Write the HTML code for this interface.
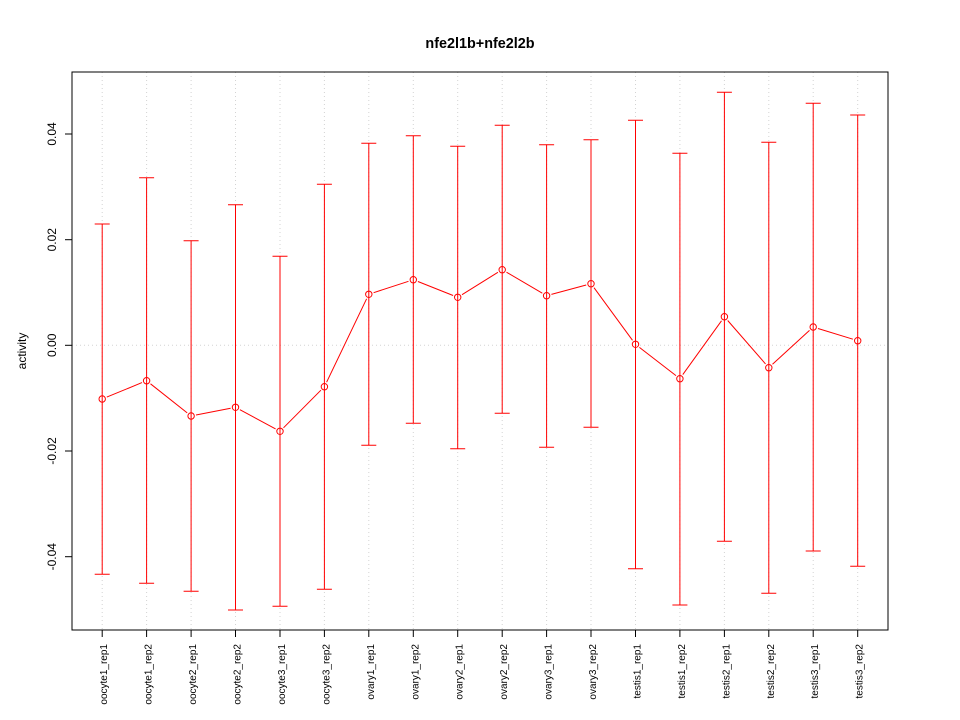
<!DOCTYPE html>
<html><head><meta charset="utf-8"><style>
html,body{margin:0;padding:0;background:#fff;}
svg{display:block;}
text{font-family:"Liberation Sans",Arial,sans-serif;fill:#000;}
</style></head><body>
<svg width="960" height="720" viewBox="0 0 960 720" xmlns="http://www.w3.org/2000/svg">
<rect width="960" height="720" fill="#fff"/>
<text x="480" y="48" text-anchor="middle" font-size="14.4" font-weight="bold">nfe2l1b+nfe2l2b</text>
<!-- grid -->
<g stroke="#D3D3D3" stroke-width="1" stroke-dasharray="1,3" fill="none">
<line x1="72" y1="345.3" x2="888" y2="345.3"/>
<line x1="102.2" y1="72" x2="102.2" y2="630"/>
<line x1="146.6" y1="72" x2="146.6" y2="630"/>
<line x1="191.1" y1="72" x2="191.1" y2="630"/>
<line x1="235.5" y1="72" x2="235.5" y2="630"/>
<line x1="280.0" y1="72" x2="280.0" y2="630"/>
<line x1="324.4" y1="72" x2="324.4" y2="630"/>
<line x1="368.8" y1="72" x2="368.8" y2="630"/>
<line x1="413.3" y1="72" x2="413.3" y2="630"/>
<line x1="457.7" y1="72" x2="457.7" y2="630"/>
<line x1="502.2" y1="72" x2="502.2" y2="630"/>
<line x1="546.6" y1="72" x2="546.6" y2="630"/>
<line x1="591.0" y1="72" x2="591.0" y2="630"/>
<line x1="635.5" y1="72" x2="635.5" y2="630"/>
<line x1="679.9" y1="72" x2="679.9" y2="630"/>
<line x1="724.4" y1="72" x2="724.4" y2="630"/>
<line x1="768.8" y1="72" x2="768.8" y2="630"/>
<line x1="813.2" y1="72" x2="813.2" y2="630"/>
<line x1="857.7" y1="72" x2="857.7" y2="630"/>
</g>
<!-- box -->
<rect x="72" y="72" width="816" height="558" fill="none" stroke="#000" stroke-width="1"/>
<!-- y axis -->
<g stroke="#000" stroke-width="1">
<line x1="72" y1="134" x2="72" y2="556.7"/>
<line x1="65" y1="134" x2="72" y2="134"/>
<line x1="65" y1="239.7" x2="72" y2="239.7"/>
<line x1="65" y1="345.3" x2="72" y2="345.3"/>
<line x1="65" y1="451" x2="72" y2="451"/>
<line x1="65" y1="556.7" x2="72" y2="556.7"/>
</g>
<g font-size="12" text-anchor="middle">
<text transform="translate(56,134) rotate(-90)">0.04</text>
<text transform="translate(56,239.7) rotate(-90)">0.02</text>
<text transform="translate(56,345.3) rotate(-90)">0.00</text>
<text transform="translate(56,451) rotate(-90)">-0.02</text>
<text transform="translate(56,556.7) rotate(-90)">-0.04</text>
<text transform="translate(26,351) rotate(-90)">activity</text>
</g>
<!-- x axis ticks -->
<g stroke="#000" stroke-width="1">
<line x1="102.2" y1="630" x2="102.2" y2="637"/>
<line x1="146.6" y1="630" x2="146.6" y2="637"/>
<line x1="191.1" y1="630" x2="191.1" y2="637"/>
<line x1="235.5" y1="630" x2="235.5" y2="637"/>
<line x1="280.0" y1="630" x2="280.0" y2="637"/>
<line x1="324.4" y1="630" x2="324.4" y2="637"/>
<line x1="368.8" y1="630" x2="368.8" y2="637"/>
<line x1="413.3" y1="630" x2="413.3" y2="637"/>
<line x1="457.7" y1="630" x2="457.7" y2="637"/>
<line x1="502.2" y1="630" x2="502.2" y2="637"/>
<line x1="546.6" y1="630" x2="546.6" y2="637"/>
<line x1="591.0" y1="630" x2="591.0" y2="637"/>
<line x1="635.5" y1="630" x2="635.5" y2="637"/>
<line x1="679.9" y1="630" x2="679.9" y2="637"/>
<line x1="724.4" y1="630" x2="724.4" y2="637"/>
<line x1="768.8" y1="630" x2="768.8" y2="637"/>
<line x1="813.2" y1="630" x2="813.2" y2="637"/>
<line x1="857.7" y1="630" x2="857.7" y2="637"/>
</g>
<g font-size="10" text-anchor="end">
<text transform="translate(107.2,644) rotate(-90)">oocyte1_rep1</text>
<text transform="translate(151.6,644) rotate(-90)">oocyte1_rep2</text>
<text transform="translate(196.1,644) rotate(-90)">oocyte2_rep1</text>
<text transform="translate(240.5,644) rotate(-90)">oocyte2_rep2</text>
<text transform="translate(285.0,644) rotate(-90)">oocyte3_rep1</text>
<text transform="translate(329.4,644) rotate(-90)">oocyte3_rep2</text>
<text transform="translate(373.8,644) rotate(-90)">ovary1_rep1</text>
<text transform="translate(418.3,644) rotate(-90)">ovary1_rep2</text>
<text transform="translate(462.7,644) rotate(-90)">ovary2_rep1</text>
<text transform="translate(507.2,644) rotate(-90)">ovary2_rep2</text>
<text transform="translate(551.6,644) rotate(-90)">ovary3_rep1</text>
<text transform="translate(596.0,644) rotate(-90)">ovary3_rep2</text>
<text transform="translate(640.5,644) rotate(-90)">testis1_rep1</text>
<text transform="translate(684.9,644) rotate(-90)">testis1_rep2</text>
<text transform="translate(729.4,644) rotate(-90)">testis2_rep1</text>
<text transform="translate(773.8,644) rotate(-90)">testis2_rep2</text>
<text transform="translate(818.2,644) rotate(-90)">testis3_rep1</text>
<text transform="translate(862.7,644) rotate(-90)">testis3_rep2</text>
</g>
<!-- error bars -->
<g stroke="#FF0000" stroke-width="1" fill="none">
<path d="M102.2,224V574.3M94.7,224H109.7M94.7,574.3H109.7"/>
<path d="M146.6,177.7V583.3M139.1,177.7H154.1M139.1,583.3H154.1"/>
<path d="M191.1,240.7V591.3M183.6,240.7H198.6M183.6,591.3H198.6"/>
<path d="M235.5,204.7V610M228,204.7H243M228,610H243"/>
<path d="M280,256.3V606.3M272.5,256.3H287.5M272.5,606.3H287.5"/>
<path d="M324.4,184.3V589.3M316.9,184.3H331.9M316.9,589.3H331.9"/>
<path d="M368.8,143.3V445.3M361.3,143.3H376.3M361.3,445.3H376.3"/>
<path d="M413.3,135.7V423.3M405.8,135.7H420.8M405.8,423.3H420.8"/>
<path d="M457.7,146.3V448.7M450.2,146.3H465.2M450.2,448.7H465.2"/>
<path d="M502.2,125.3V413.3M494.7,125.3H509.7M494.7,413.3H509.7"/>
<path d="M546.6,144.7V447.3M539.1,144.7H554.1M539.1,447.3H554.1"/>
<path d="M591,139.7V427.3M583.5,139.7H598.5M583.5,427.3H598.5"/>
<path d="M635.5,120.3V568.7M628,120.3H643M628,568.7H643"/>
<path d="M679.9,153.3V605M672.4,153.3H687.4M672.4,605H687.4"/>
<path d="M724.4,92.3V541.3M716.9,92.3H731.9M716.9,541.3H731.9"/>
<path d="M768.8,142.3V593.3M761.3,142.3H776.3M761.3,593.3H776.3"/>
<path d="M813.2,103.3V551M805.7,103.3H820.7M805.7,551H820.7"/>
<path d="M857.7,115V566.3M850.2,115H865.2M850.2,566.3H865.2"/>
</g>
<!-- connecting line segments -->
<g stroke="#FF0000" stroke-width="1" fill="none">
<path d="M106.8,397.1L142.0,382.6M150.5,383.8L187.2,412.9M196.0,415.0L230.6,408.3M239.9,409.7L275.6,428.9M283.5,427.8L320.9,390.2M326.6,382.2L366.6,298.8M373.6,292.7L408.5,281.3M417.9,281.5L453.1,295.5M462.0,294.7L497.9,272.3M506.5,272.2L542.3,293.2M551.4,294.4L586.2,285.0M594.0,287.7L632.5,340.3M639.4,347.4L676.0,375.6M682.8,374.6L721.5,320.8M727.7,320.5L765.5,363.9M772.5,364.3L809.5,330.4M818.0,328.5L852.9,339.2"/>
</g>
<!-- points -->
<g stroke="#FF0000" stroke-width="1" fill="none">
<circle cx="102.2" cy="399" r="3.2"/>
<circle cx="146.6" cy="380.7" r="3.2"/>
<circle cx="191.1" cy="416" r="3.2"/>
<circle cx="235.5" cy="407.3" r="3.2"/>
<circle cx="280" cy="431.3" r="3.2"/>
<circle cx="324.4" cy="386.7" r="3.2"/>
<circle cx="368.8" cy="294.3" r="3.2"/>
<circle cx="413.3" cy="279.7" r="3.2"/>
<circle cx="457.7" cy="297.3" r="3.2"/>
<circle cx="502.2" cy="269.7" r="3.2"/>
<circle cx="546.6" cy="295.7" r="3.2"/>
<circle cx="591" cy="283.7" r="3.2"/>
<circle cx="635.5" cy="344.3" r="3.2"/>
<circle cx="679.9" cy="378.7" r="3.2"/>
<circle cx="724.4" cy="316.7" r="3.2"/>
<circle cx="768.8" cy="367.7" r="3.2"/>
<circle cx="813.2" cy="327" r="3.2"/>
<circle cx="857.7" cy="340.7" r="3.2"/>
</g>
</svg>
</body></html>
